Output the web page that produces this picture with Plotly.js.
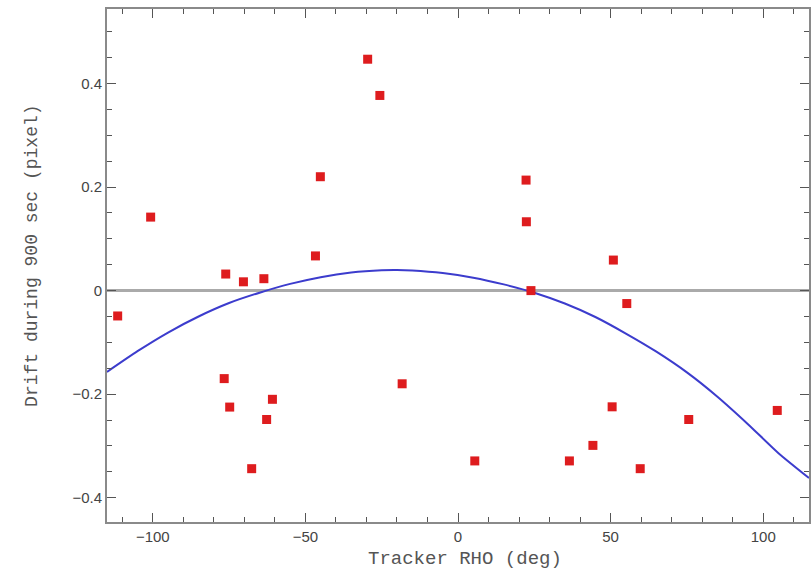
<!DOCTYPE html>
<html>
<head>
<meta charset="utf-8">
<script src="https://cdn.plot.ly/plotly-3.0.1.min.js"></script>
<style>html,body{margin:0;padding:0;background:#fff;}#chart{width:812px;height:571px;}</style>
</head>
<body>
<div id="chart"></div>
<script>
// Measured drift points (Tracker RHO in deg, drift in pixels)
const rho = [-111.5, -100.7, -76.1, -70.3, -63.6, -76.6, -74.8, -67.6, -62.7, -60.8,
             -46.7, -45.1, -29.6, -25.6, -18.3, 5.5, 22.3, 22.4, 23.9, 36.5,
             44.2, 50.5, 50.9, 55.3, 59.7, 75.6, 104.6];
const drift = [-0.049, 0.142, 0.032, 0.017, 0.023, -0.170, -0.225, -0.344, -0.249, -0.210,
               0.067, 0.220, 0.447, 0.377, -0.180, -0.329, 0.2135, 0.133, 0.0, -0.329,
               -0.299, -0.2245, 0.059, -0.025, -0.344, -0.249, -0.2315];
// Fitted curve
const fitX = [-115, -105, -95, -85, -75, -65, -55, -45, -35, -25, -20, -15, -5, 5, 15, 25,
              35, 45, 55, 65, 75, 85, 95, 105, 115];
const fitY = [-0.157, -0.117, -0.081, -0.050, -0.024, -0.004, 0.013, 0.026, 0.035, 0.0395, 0.040, 0.039,
              0.034, 0.025, 0.012, -0.004, -0.025, -0.051, -0.083, -0.118, -0.158, -0.205, -0.258, -0.314, -0.362];
const xTitle = 'Tracker RHO (deg)';
const yTitle = 'Drift during 900 sec (pixel)';

const traces = [
  {x: fitX, y: fitY, mode: 'lines', line: {color: 'rgb(60,60,205)', width: 2, shape: 'spline', smoothing: 0.6}, hoverinfo: 'skip'},
  {x: rho, y: drift, mode: 'markers', marker: {symbol: 'square', size: 9, color: 'rgb(222,28,30)'}}
];

const axisCommon = {
  showgrid: false,
  showline: true,
  linecolor: '#8a8a8a',
  linewidth: 2,
  mirror: 'allticks',
  ticks: 'inside',
  tickcolor: '#555',
  tickwidth: 1,
  ticklen: 9,
  tickfont: {family: 'Liberation Sans, Arial, sans-serif', size: 15, color: '#444'},
};
const titleFont = {family: 'Liberation Mono, DejaVu Sans Mono, monospace', color: '#555'};

const layout = {
  width: 812, height: 571,
  margin: {l: 107, r: 3, t: 9, b: 49},
  paper_bgcolor: '#fff', plot_bgcolor: '#fff',
  showlegend: false,
  xaxis: Object.assign({}, axisCommon, {
    range: [-115, 115],
    dtick: 50, tick0: 0,
    zeroline: false,
    minor: {dtick: 10, ticks: 'inside', ticklen: 5, tickcolor: '#555'}
  }),
  yaxis: Object.assign({}, axisCommon, {
    range: [-0.447, 0.544],
    dtick: 0.2, tick0: 0,
    zeroline: true, zerolinecolor: '#aaaaaa', zerolinewidth: 3,
    minor: {dtick: 0.05, ticks: 'inside', ticklen: 5, tickcolor: '#555'}
  }),
  annotations: [
    {text: xTitle, xref: 'paper', yref: 'paper', x: 0.51, y: -0.072, xanchor: 'center', yanchor: 'middle',
     showarrow: false, font: Object.assign({size: 19}, titleFont)},
    {text: yTitle, xref: 'paper', yref: 'paper', x: -0.107, y: 0.5185, xanchor: 'center', yanchor: 'middle',
     textangle: -90, showarrow: false, font: Object.assign({size: 18}, titleFont)}
  ]
};

Plotly.newPlot('chart', traces, layout, {displayModeBar: false, staticPlot: true});
</script>
</body>
</html>
